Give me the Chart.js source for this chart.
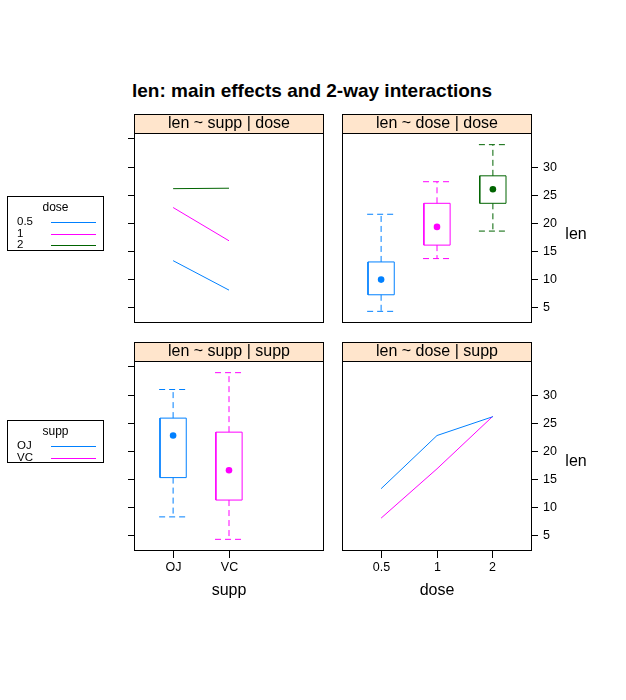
<!DOCTYPE html>
<html>
<head>
<meta charset="utf-8">
<script src="https://cdn.jsdelivr.net/npm/chart.js@4"></script>
<style>
  body { margin: 0; background: #fff; font-family: "Liberation Sans", Arial, sans-serif; }
  #wrap { position: relative; width: 626px; height: 700px; }
  #wrap canvas { position: absolute; left: 0; top: 0; }
  .title { position: absolute; left: 132px; top: 80px; font-size: 19px; font-weight: bold; white-space: nowrap; }
  .key { position: absolute; left: 7px; width: 95px; border: 1px solid #000; font-size: 11.5px; }
  .key .kt { text-align: center; font-size: 12px; margin: 3px 0 2px; }
  .key .row { position: relative; height: 11.5px; line-height: 11.5px; }
  .key .row span { position: absolute; left: 9px; }
  .key .row i { position: absolute; left: 43px; width: 45px; top: 6px; height: 1px; }
</style>
</head>
<body>
<div id="wrap">
  <div class="title">len: main effects and 2-way interactions</div>
  <canvas id="tl" width="626" height="700"></canvas>
  <canvas id="tr" width="626" height="700"></canvas>
  <canvas id="bl" width="626" height="700"></canvas>
  <canvas id="br" width="626" height="700"></canvas>
  <div class="key" style="top:196px; height:53px;" id="doseKey"><div class="kt">dose</div></div>
  <div class="key" style="top:420px; height:41px;" id="suppKey"><div class="kt">supp</div></div>
</div>
<script>
// ToothGrowth: len by supp and dose
const doseLevels = ["0.5", "1", "2"];
const suppLevels = ["OJ", "VC"];
const doseColors = ["#0080ff", "#ff00ff", "#006400"];
const suppColors = ["#0080ff", "#ff00ff"];

// cell means (OJ / VC at each dose)
const meanOJ = [13.23, 22.70, 26.06];
const meanVC = [7.98, 16.77, 26.14];

// box stats by dose
const doseMin = [4.2, 13.6, 18.5];
const doseQ1 = [7.15, 16.0, 23.45];
const doseMed = [9.85, 19.25, 25.95];
const doseQ3 = [13.0, 23.45, 28.35];
const doseMax = [21.5, 27.3, 33.9];

// box stats by supp
const suppMin = [8.2, 4.2];
const suppQ1 = [15.2, 11.2];
const suppMed = [22.7, 16.5];
const suppQ3 = [25.8, 23.3];
const suppMax = [30.9, 33.9];

const yTicks = [5, 10, 15, 20, 25, 30];
const yTicksLeft = [5, 10, 15, 20, 25, 30, 35];

const FONT = '"Liberation Sans", Arial, sans-serif';
const STRIP_H = 19;
const HALF = 0.25; // half cap width, x units
const BOX_HALF = 0.235; // half box width, x units

// panel decorations: frame, strip, ticks, labels
const panelDecor = {
  id: "panelDecor",
  afterDraw(chart, args, o) {
    const { ctx, chartArea: a } = chart;
    const x = chart.scales.x, y = chart.scales.y;
    ctx.save();
    ctx.lineWidth = 1;
    ctx.strokeStyle = "#000";
    // strip
    ctx.fillStyle = "#ffe5cc";
    ctx.fillRect(a.left, a.top - STRIP_H, a.right - a.left, STRIP_H);
    ctx.strokeRect(a.left + 0.5, a.top - STRIP_H + 0.5, a.right - a.left - 1, STRIP_H);
    ctx.fillStyle = "#000";
    ctx.font = "16px " + FONT;
    ctx.textAlign = "center";
    ctx.textBaseline = "middle";
    ctx.fillText(o.strip, (a.left + a.right) / 2, a.top - STRIP_H / 2);
    // frame
    ctx.strokeRect(a.left + 0.5, a.top + 0.5, a.right - a.left - 1, a.bottom - a.top - 1);
    ctx.font = "12.5px " + FONT;
    ctx.beginPath();
    if (o.left) {
      yTicksLeft.forEach(v => {
        const py = Math.round(y.getPixelForValue(v)) + 0.5;
        ctx.moveTo(a.left - 6, py); ctx.lineTo(a.left, py);
      });
    }
    if (o.right) {
      ctx.textAlign = "left";
      yTicks.forEach(v => {
        const py = Math.round(y.getPixelForValue(v)) + 0.5;
        ctx.moveTo(a.right, py); ctx.lineTo(a.right + 6, py);
        ctx.fillText(String(v), a.right + 11, py);
      });
    }
    if (o.xlabels) {
      ctx.textAlign = "center";
      o.xlabels.forEach((t, i) => {
        const px = Math.floor(x.getPixelForValue(i + 1)) + 0.5;
        ctx.moveTo(px, a.bottom); ctx.lineTo(px, a.bottom + 7);
        ctx.fillText(t, px, a.bottom + 17);
      });
    }
    ctx.stroke();
    ctx.font = "16px " + FONT;
    ctx.textAlign = "center";
    if (o.xtitle) ctx.fillText(o.xtitle, (a.left + a.right) / 2, a.bottom + 40);
    if (o.ytitle) ctx.fillText(o.ytitle, 576, o.ytitleY);
    ctx.restore();
  }
};

function baseOptions(rect, decor) {
  return {
    responsive: false,
    animation: false,
    devicePixelRatio: 1,
    layout: { padding: { left: rect[0], top: rect[1], right: 626 - rect[2], bottom: 700 - rect[3] } },
    plugins: { legend: { display: false }, tooltip: { enabled: false }, panelDecor: decor },
    scales: {
      x: { type: "linear", min: 0.3, max: 3.7, display: false, offset: false },
      y: { type: "linear", min: 2.12, max: 35.98, display: false }
    }
  };
}

function boxDatasets(colors, mins, q1, med, q3, maxs) {
  const sets = [];
  colors.forEach((c, i) => {
    const p = i + 1;
    // box outline
    sets.push({
      data: [
        { x: p - BOX_HALF, y: q1[i] }, { x: p + BOX_HALF, y: q1[i] },
        { x: p + BOX_HALF, y: q3[i] }, { x: p - BOX_HALF, y: q3[i] },
        { x: p - BOX_HALF, y: q1[i] }
      ],
      borderColor: c,
      borderWidth: 1,
      pointRadius: 0
    });
    // dashed whiskers and caps
    sets.push({
      data: [
        { x: p, y: q3[i] }, { x: p, y: maxs[i] }, { x: p, y: null },
        { x: p - HALF, y: maxs[i] }, { x: p + HALF, y: maxs[i] }, { x: p, y: null },
        { x: p, y: q1[i] }, { x: p, y: mins[i] }, { x: p, y: null },
        { x: p - HALF, y: mins[i] }, { x: p + HALF, y: mins[i] }
      ],
      borderColor: c,
      borderWidth: 1,
      borderDash: [6, 4],
      pointRadius: 0,
      spanGaps: false
    });
  });
  sets.push({
    type: "scatter",
    data: med.map((v, i) => ({ x: i + 1, y: v })),
    pointRadius: 3.3,
    pointBorderWidth: 0,
    pointBackgroundColor: colors
  });
  return sets;
}

window.onload = function () {
  Chart.register(panelDecor);

  // top-left: len ~ supp | dose (interaction lines)
  new Chart(document.getElementById("tl").getContext("2d"), {
    type: "line",
    data: {
      datasets: doseLevels.map((d, i) => ({
        label: d,
        data: [{ x: 1, y: meanOJ[i] }, { x: 2, y: meanVC[i] }],
        borderColor: doseColors[i],
        borderWidth: 1,
        pointRadius: 0
      }))
    },
    options: baseOptions([134, 133, 324, 323], { strip: "len ~ supp | dose", left: true })
  });

  // top-right: len ~ dose | dose (boxes)
  new Chart(document.getElementById("tr").getContext("2d"), {
    type: "line",
    data: { datasets: boxDatasets(doseColors, doseMin, doseQ1, doseMed, doseQ3, doseMax) },
    options: baseOptions([342, 133, 532, 323], { strip: "len ~ dose | dose", right: true, ytitle: "len", ytitleY: 235 })
  });

  // bottom-left: len ~ supp | supp (boxes)
  new Chart(document.getElementById("bl").getContext("2d"), {
    type: "line",
    data: { datasets: boxDatasets(suppColors, suppMin, suppQ1, suppMed, suppQ3, suppMax) },
    options: baseOptions([134, 361, 324, 551], { strip: "len ~ supp | supp", left: true, xlabels: suppLevels, xtitle: "supp" })
  });

  // bottom-right: len ~ dose | supp (interaction lines)
  new Chart(document.getElementById("br").getContext("2d"), {
    type: "line",
    data: {
      datasets: suppLevels.map((s, i) => ({
        label: s,
        data: (i === 0 ? meanOJ : meanVC).map((v, j) => ({ x: j + 1, y: v })),
        borderColor: suppColors[i],
        borderWidth: 1,
        pointRadius: 0
      }))
    },
    options: baseOptions([342, 361, 532, 551], { strip: "len ~ dose | supp", right: true, xlabels: doseLevels, xtitle: "dose", ytitle: "len", ytitleY: 462 })
  });

  // keys
  function addKey(id, labels, colors) {
    const box = document.getElementById(id);
    labels.forEach((t, i) => {
      const row = document.createElement("div");
      row.className = "row";
      row.innerHTML = "<span>" + t + "</span><i style='background:" + colors[i] + "'></i>";
      box.appendChild(row);
    });
  }
  addKey("doseKey", doseLevels, doseColors);
  addKey("suppKey", suppLevels, suppColors);
};
</script>
</body>
</html>
